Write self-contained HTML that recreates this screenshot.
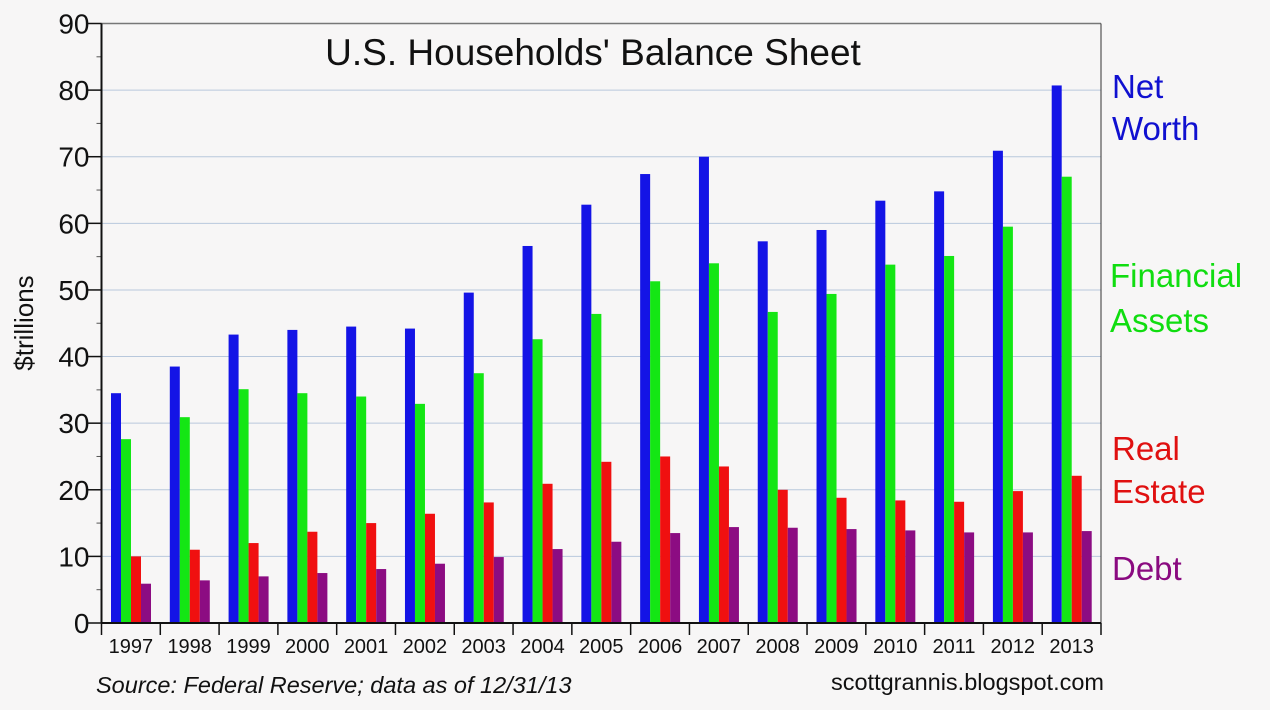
<!DOCTYPE html>
<html><head><meta charset="utf-8"><style>
body{margin:0;background:#f7f6f6;}
svg{display:block;font-family:"Liberation Sans",sans-serif;}
</style></head><body>
<svg id="c" width="1270" height="710">
<rect width="1270" height="710" fill="#f7f6f6"/>
<text x="593" y="65" font-size="37" text-anchor="middle" fill="#111">U.S. Households' Balance Sheet</text>
<text transform="translate(33,323) rotate(-90)" font-size="26" text-anchor="middle" fill="#111">$trillions</text>
<g id="grid"></g><g id="bars"></g><g id="axes"></g>
<g font-size="33">
<text x="1112" y="98" fill="#1010d0">Net</text>
<text x="1112" y="140" fill="#1010d0">Worth</text>
<text x="1110" y="287" fill="#10dd10">Financial</text>
<text x="1110" y="332" fill="#10dd10">Assets</text>
<text x="1112" y="460" fill="#e01010">Real</text>
<text x="1112" y="503" fill="#e01010">Estate</text>
<text x="1112" y="580" fill="#8a0a80">Debt</text>
</g>
<text x="96" y="693" font-size="23.5" font-style="italic" fill="#111">Source: Federal Reserve; data as of 12/31/13</text>
<text x="1104" y="690" font-size="23.5" text-anchor="end" fill="#111">scottgrannis.blogspot.com</text>
</svg>
<script>
const years=["1997","1998","1999","2000","2001","2002","2003","2004","2005","2006","2007","2008","2009","2010","2011","2012","2013"];
const netWorth=[34.5,38.5,43.3,44,44.5,44.2,49.6,56.6,62.8,67.4,70,57.3,59,63.4,64.8,70.9,80.7];
const financialAssets=[27.6,30.9,35.1,34.5,34,32.9,37.5,42.6,46.4,51.3,54,46.7,49.4,53.8,55.1,59.5,67];
const realEstate=[10,11,12,13.7,15,16.4,18.1,20.9,24.2,25,23.5,20,18.8,18.4,18.2,19.8,22.1];
const debt=[5.9,6.4,7,7.5,8.1,8.9,9.9,11.1,12.2,13.5,14.4,14.3,14.1,13.9,13.6,13.6,13.8];
const yTicks=[0,10,20,30,40,50,60,70,80,90];
const NS="http://www.w3.org/2000/svg";
const X0=101.5,X1=1101,Y0=623,Y1=23.5,YMAX=90;
const gw=(X1-X0)/years.length;
const y=v=>Y0-(v/YMAX)*(Y0-Y1);
function mk(t,a,p){const e=document.createElementNS(NS,t);for(const k in a)e.setAttribute(k,a[k]);p.appendChild(e);return e;}
const grid=document.getElementById('grid'),bars=document.getElementById('bars'),axes=document.getElementById('axes');
yTicks.forEach(v=>{
  if(v>0&&v<90){const l=mk('line',{x1:X0,x2:X1,y1:y(v),y2:y(v),stroke:'#b8c8dc','stroke-width':1},grid);
  
  }
  const t=mk('text',{x:X0-12,y:y(v)+10,'font-size':28,'text-anchor':'end',fill:'#111'},axes);
  t.textContent=v;
  
  
  mk('line',{x1:X0-14,x2:X0,y1:y(v),y2:y(v),stroke:'#111','stroke-width':1.5},axes);
  if(v<90){mk('line',{x1:X0-5,x2:X0,y1:y(v+5),y2:y(v+5),stroke:'#555','stroke-width':1},axes);}
});
const series=[[netWorth,'#1414e6','net-worth'],[financialAssets,'#14e614','financial-assets'],[realEstate,'#f01010','real-estate'],[debt,'#8c0c82','debt']];
years.forEach((yr,i)=>{
  const gx=X0+i*gw;
  series.forEach((s,j)=>{
    const v=s[0][i];
    const r=mk('rect',{x:gx+9.5+j*10,y:y(v),width:10,height:Y0-y(v),fill:s[1]},bars);
    
    
  });
  mk('line',{x1:gx,x2:gx,y1:Y0,y2:Y0+12,stroke:'#111','stroke-width':1.5},axes);
  const t=mk('text',{x:gx+gw/2,y:Y0+30,'font-size':20,'text-anchor':'middle',fill:'#111'},axes);
  t.textContent=yr;
  
  
});
mk('line',{x1:X1,x2:X1,y1:Y0,y2:Y0+12,stroke:'#111','stroke-width':1.5},axes);
mk('line',{x1:X0,x2:X1,y1:Y1,y2:Y1,stroke:'#777','stroke-width':1.5},axes);
mk('line',{x1:X1,x2:X1,y1:Y1,y2:Y0,stroke:'#333','stroke-width':1},axes);
mk('line',{x1:X0,x2:X0,y1:Y1,y2:Y0,stroke:'#111','stroke-width':2},axes);
mk('line',{x1:X0,x2:X1,y1:Y0,y2:Y0,stroke:'#111','stroke-width':2},axes);
</script>
</body></html>
